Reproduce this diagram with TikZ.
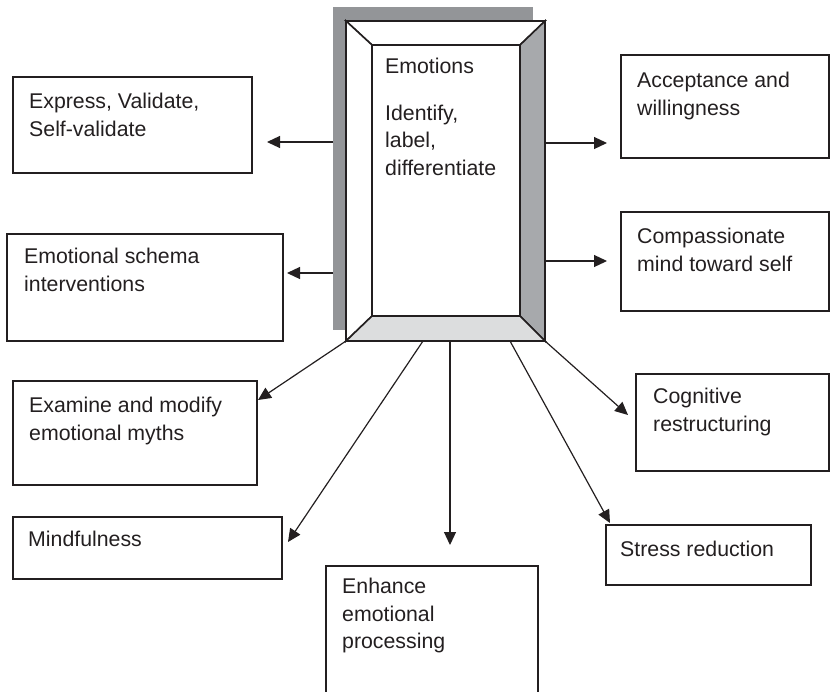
\documentclass[tikz,border=0pt]{standalone}
\usepackage{fontspec}
\setmainfont{Liberation Sans}
\usetikzlibrary{arrows.meta}
\definecolor{ink}{HTML}{231F20}
\definecolor{shadowgray}{HTML}{939598}
\definecolor{bevelgray}{HTML}{A7A9AC}
\definecolor{bevellight}{HTML}{DCDDDE}

\begin{document}
\begin{tikzpicture}[x=1pt,y=-1pt,
  box/.style={draw=ink,line width=1.6pt,anchor=north west,inner sep=0pt,outer sep=0pt},
  txt/.style={anchor=north west,align=left,inner sep=0pt,text=ink,font=\fontsize{21.3}{27.5}\selectfont},
  arr/.style={draw=ink,line width=1.2pt,-{Triangle[length=13pt,width=12pt]}},
  frame/.style={draw=ink,line width=1.6pt,line join=miter}]
  \useasboundingbox (0,0) rectangle (832,691);

  \node[fill=shadowgray,anchor=north west,inner sep=0pt,outer sep=0pt,minimum width=200,minimum height=323] (shadow) at (333,7) {};
  \node[anchor=north west,inner sep=0pt,outer sep=0pt,minimum width=199,minimum height=320] (emo) at (346,21) {};
  \node[anchor=north west,inner sep=0pt,outer sep=0pt,minimum width=148,minimum height=271] (emo-in) at (372,45) {};
  \filldraw[frame,fill=white] (emo.north west) -- (emo.north east) -- (emo-in.north east) -- (emo-in.north west) -- cycle;
  \filldraw[frame,fill=white] (emo.north west) -- (emo-in.north west) -- (emo-in.south west) -- (emo.south west) -- cycle;
  \filldraw[frame,fill=bevelgray] (emo.north east) -- (emo.south east) -- (emo-in.south east) -- (emo-in.north east) -- cycle;
  \filldraw[frame,fill=bevellight] (emo.south west) -- (emo.south east) -- (emo-in.south east) -- (emo-in.south west) -- cycle;
  \filldraw[frame,fill=white] (emo-in.north west) rectangle (emo-in.south east);
  \node[txt] (emo-t) at (385,58) {Emotions\\[19pt]Identify,\\label,\\differentiate};

  \node[box,minimum width=239,minimum height=96] (express) at (13,77) {};
  \node[txt] (express-t) at (29,93) {Express, Validate,\\Self-validate};
  \node[box,minimum width=276,minimum height=107] (schema) at (7,234) {};
  \node[txt] (schema-t) at (24,248) {Emotional schema\\interventions};
  \node[box,minimum width=244,minimum height=104] (examine) at (13,381) {};
  \node[txt] (examine-t) at (29,397) {Examine and modify\\emotional myths};
  \node[box,minimum width=269,minimum height=62] (mind) at (13,517) {};
  \node[txt] (mind-t) at (28,531) {Mindfulness};
  \node[box,minimum width=212,minimum height=140] (enhance) at (326,566) {};
  \node[txt] (enhance-t) at (342,578) {Enhance\\emotional\\processing};
  \node[box,minimum width=205,minimum height=60] (stress) at (606,525) {};
  \node[txt] (stress-t) at (620,541) {Stress reduction};
  \node[box,minimum width=193,minimum height=97] (cognit) at (636,374) {};
  \node[txt] (cognit-t) at (653,388) {Cognitive\\restructuring};
  \node[box,minimum width=208,minimum height=103] (accept) at (621,55) {};
  \node[txt] (accept-t) at (637,72) {Acceptance and\\willingness};
  \node[box,minimum width=208,minimum height=99] (compas) at (621,212) {};
  \node[txt] (compas-t) at (637,228) {Compassionate\\mind toward self};

  \coordinate (express-in) at (267,142);
  \coordinate (schema-in) at (287,273);
  \coordinate (accept-in) at (607,143);
  \coordinate (compas-in) at (607,261);
  \coordinate (examine-in) at (258,400);
  \coordinate (mind-in) at (288,542);
  \coordinate (enhance-in) at (450,545);
  \coordinate (stress-in) at (610,523);
  \coordinate (cognit-in) at (628,415);
  \draw[arr] (shadow.west |- express-in) -- (express-in);
  \draw[arr] (shadow.west |- schema-in) -- (schema-in);
  \draw[arr] (emo.east |- accept-in) -- (accept-in);
  \draw[arr] (emo.east |- compas-in) -- (compas-in);
  \draw[arr] (emo.south west) -- (examine-in);
  \draw[arr] ([xshift=77pt]emo.south west) -- (mind-in);
  \draw[arr] (emo.south -| enhance-in) -- (enhance-in);
  \draw[arr] ([xshift=164pt]emo.south west) -- (stress-in);
  \draw[arr] (emo.south east) -- (cognit-in);
\end{tikzpicture}
\end{document}
